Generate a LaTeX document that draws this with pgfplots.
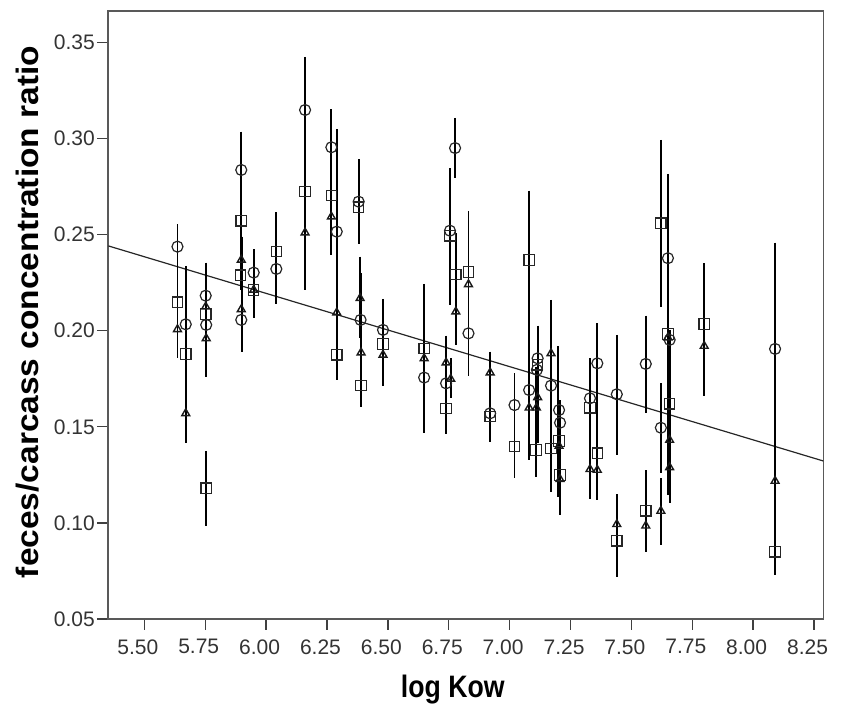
\documentclass[border=0pt]{standalone}
\usepackage{fontspec}
\setmainfont{Liberation Sans}
\newfontfamily\ylabfont[FakeStretch=1.08]{Liberation Sans}
\newfontfamily\xlabfont[FakeStretch=0.86]{Liberation Sans}
\usepackage{pgfplots}
\pgfplotsset{compat=1.18}
\begin{document}
\begin{tikzpicture}
\begin{axis}[
  at={(0,0)}, anchor=south west,
  scale only axis, width=715pt, height=608pt,
  xmin=5.352, xmax=8.288, ymin=0.05, ymax=0.3663,
  axis line style={black!65, line width=1.6pt},
  tick pos=left, tick align=outside, major tick length=11pt,
  tick style={black!75, line width=1.4pt},
  xtick={5.50,5.75,6.00,6.25,6.50,6.75,7.00,7.25,7.50,7.75,8.00,8.25},
  ytick={0.05,0.10,0.15,0.20,0.25,0.30,0.35},
  /pgf/number format/assume math mode=true,
  xticklabel style={/pgf/number format/.cd, fixed, fixed zerofill, precision=2, /tikz/.cd, xshift=-6.5pt, yshift=-6pt},
  yticklabel style={/pgf/number format/.cd, fixed, fixed zerofill, precision=2, /tikz/.cd, xshift=1pt},
  ticklabel style={font=\fontsize{21}{23}\selectfont, text=black!80},
  xlabel={log Kow},
  ylabel={feces/carcass concentration ratio},
  xlabel style={at={(rel axis cs:0.5,0)}, anchor=center, yshift=-71pt, xshift=-13pt, font=\fontsize{31}{34}\selectfont\xlabfont\bfseries},
  ylabel style={at={(rel axis cs:0,0.505)}, anchor=center, yshift=81pt, font=\fontsize{31}{34}\selectfont\ylabfont\bfseries},
  clip=false,
]
% regression line
\addplot[black!85, line width=1.2pt] coordinates {(5.352,0.2441) (8.288,0.1322)};
% vertical range lines
\addplot[black, line width=1.8pt, unbounded coords=jump] table[row sep=\\] {
x y\\
5.636 0.2554\\ 5.636 0.1856\\ nan nan\\
5.670 0.2337\\ 5.670 0.1414\\ nan nan\\
5.752 0.2354\\ 5.752 0.1760\\ nan nan\\
5.754 0.1374\\ 5.754 0.0985\\ nan nan\\
5.898 0.3035\\ 5.898 0.2212\\ nan nan\\
5.900 0.2489\\ 5.900 0.1891\\ nan nan\\
5.949 0.2424\\ 5.949 0.2065\\ nan nan\\
6.042 0.2616\\ 6.042 0.2139\\ nan nan\\
6.160 0.3424\\ 6.160 0.2212\\ nan nan\\
6.268 0.3153\\ 6.268 0.2394\\ nan nan\\
6.290 0.3048\\ 6.290 0.1744\\ nan nan\\
6.380 0.2892\\ 6.380 0.2451\\ nan nan\\
6.386 0.2385\\ 6.386 0.1960\\ nan nan\\
6.390 0.2299\\ 6.390 0.1605\\ nan nan\\
6.480 0.2165\\ 6.480 0.1712\\ nan nan\\
6.649 0.2243\\ 6.649 0.1469\\ nan nan\\
6.739 0.1974\\ 6.739 0.1461\\ nan nan\\
6.758 0.1856\\ 6.758 0.1648\\ nan nan\\
6.755 0.2845\\ 6.755 0.2134\\ nan nan\\
6.776 0.3107\\ 6.776 0.2795\\ nan nan\\
6.779 0.2507\\ 6.779 0.1926\\ nan nan\\
6.831 0.2623\\ 6.831 0.1766\\ nan nan\\
6.920 0.1891\\ 6.920 0.1423\\ nan nan\\
7.020 0.1778\\ 7.020 0.1232\\ nan nan\\
7.080 0.2728\\ 7.080 0.1327\\ nan nan\\
7.115 0.2026\\ 7.115 0.1414\\ nan nan\\
7.108 0.1813\\ 7.108 0.1240\\ nan nan\\
7.170 0.2160\\ 7.170 0.1162\\ nan nan\\
7.200 0.1920\\ 7.200 0.1136\\ nan nan\\
7.207 0.1639\\ 7.207 0.1041\\ nan nan\\
7.330 0.1856\\ 7.330 0.1123\\ nan nan\\
7.360 0.2038\\ 7.360 0.1119\\ nan nan\\
7.440 0.1978\\ 7.440 0.1353\\ nan nan\\
7.440 0.1150\\ 7.440 0.0720\\ nan nan\\
7.559 0.2078\\ 7.559 0.1570\\ nan nan\\
7.559 0.1275\\ 7.559 0.0850\\ nan nan\\
7.621 0.2992\\ 7.621 0.2125\\ nan nan\\
7.621 0.1726\\ 7.621 0.1262\\ nan nan\\
7.621 0.1232\\ 7.621 0.0885\\ nan nan\\
7.650 0.2815\\ 7.650 0.2004\\ nan nan\\
7.650 0.2073\\ 7.650 0.1145\\ nan nan\\
7.657 0.2004\\ 7.657 0.1102\\ nan nan\\
7.799 0.2351\\ 7.799 0.1662\\ nan nan\\
8.090 0.2458\\ 8.090 0.0729\\
};
% circles
\addplot[only marks, mark=o, mark size=5.5pt, black!85, mark options={line width=1.2pt}] table[row sep=\\] {
x y\\
5.636 0.2437\\ 5.670 0.2033\\ 5.752 0.2182\\ 5.754 0.2030\\ 5.898 0.2836\\ 5.898 0.2056\\
5.949 0.2302\\ 6.042 0.2321\\ 6.160 0.3148\\ 6.268 0.2954\\ 6.290 0.2515\\ 6.380 0.2671\\
6.388 0.2056\\ 6.480 0.2004\\ 6.649 0.1756\\ 6.739 0.1726\\ 6.755 0.2520\\ 6.776 0.2950\\
6.831 0.1986\\ 6.920 0.1570\\ 7.020 0.1613\\ 7.080 0.1691\\ 7.115 0.1856\\ 7.112 0.1796\\
7.170 0.1714\\ 7.203 0.1587\\ 7.207 0.1521\\ 7.330 0.1648\\ 7.360 0.1830\\ 7.440 0.1669\\
7.559 0.1827\\ 7.621 0.1495\\ 7.650 0.2377\\ 7.657 0.1952\\ 8.090 0.1905\\
};
% squares
\addplot[only marks, mark=square, mark size=5.2pt, black!85, mark options={line width=1.2pt}] table[row sep=\\] {
x y\\
5.636 0.2148\\ 5.670 0.1879\\ 5.752 0.2087\\ 5.754 0.1180\\ 5.898 0.2571\\ 5.895 0.2288\\
5.949 0.2212\\ 6.042 0.2411\\ 6.160 0.2723\\ 6.268 0.2703\\ 6.290 0.1874\\ 6.380 0.2642\\
6.390 0.1714\\ 6.480 0.1931\\ 6.649 0.1908\\ 6.739 0.1596\\ 6.755 0.2493\\ 6.779 0.2293\\
6.831 0.2305\\ 6.920 0.1553\\ 7.020 0.1397\\ 7.080 0.2368\\ 7.115 0.1822\\ 7.108 0.1379\\
7.170 0.1388\\ 7.203 0.1426\\ 7.207 0.1249\\ 7.330 0.1599\\ 7.360 0.1362\\ 7.440 0.0907\\
7.559 0.1063\\ 7.621 0.2559\\ 7.650 0.1983\\ 7.657 0.1619\\ 7.799 0.2035\\ 8.090 0.0850\\
};
% triangles
\addplot[only marks, mark=triangle, mark size=4.5pt, black!90, mark options={line width=1.4pt}] table[row sep=\\] {
x y\\
5.636 0.2007\\ 5.670 0.1570\\ 5.752 0.2125\\ 5.754 0.1960\\ 5.898 0.2368\\ 5.898 0.2111\\
5.949 0.2212\\ 6.160 0.2510\\ 6.268 0.2593\\ 6.290 0.2094\\ 6.386 0.2169\\ 6.390 0.1886\\
6.480 0.1874\\ 6.649 0.1856\\ 6.739 0.1834\\ 6.758 0.1749\\ 6.779 0.2099\\ 6.831 0.2241\\
6.920 0.1782\\ 7.080 0.1599\\ 7.115 0.1653\\ 7.110 0.1599\\ 7.170 0.1882\\ 7.203 0.1400\\
7.207 0.1227\\ 7.330 0.1279\\ 7.360 0.1275\\ 7.440 0.0993\\ 7.559 0.0985\\ 7.621 0.1062\\
7.650 0.1964\\ 7.657 0.1431\\ 7.657 0.1289\\ 7.799 0.1920\\ 8.090 0.1218\\
};
\end{axis}
\pgfresetboundingbox
\path (-108.3pt,-92pt) rectangle (734.7pt,619pt);
\end{tikzpicture}
\end{document}
